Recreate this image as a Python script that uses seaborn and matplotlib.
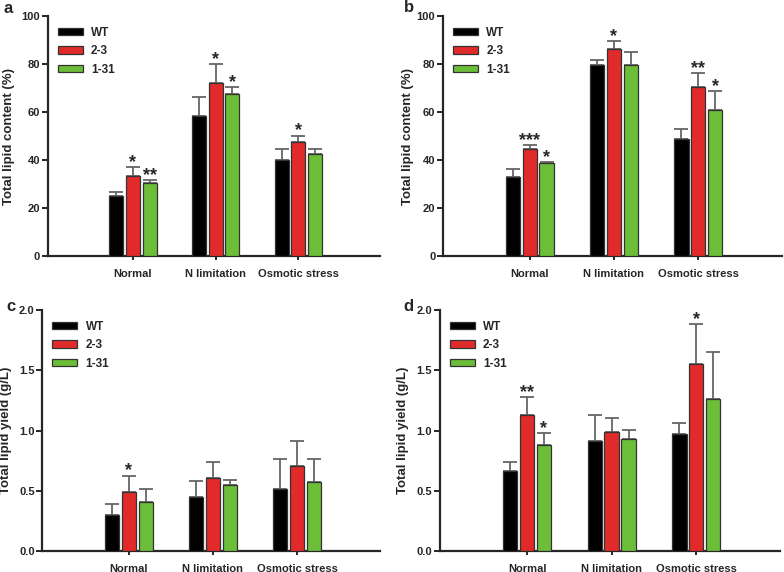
import pandas as pd
import seaborn as sns
import matplotlib.pyplot as plt

conditions = ["Normal", "N limitation", "Osmotic stress"]
strains = ["WT", "2-3", "1-31"]
colors = ["#000000", "#e12a2a", "#6cbd38"]

# means per strain (rows) for each condition (cols)
content_a = [[25.0, 58.4, 40.2], [33.3, 72.1, 47.7], [30.4, 67.5, 42.7]]
content_a_err = [[1.6, 7.8, 4.5], [3.8, 7.9, 2.5], [1.3, 2.8, 2.0]]
content_b = [[32.8, 79.5, 48.6], [44.8, 86.3, 70.3], [38.9, 79.7, 60.7]]
content_b_err = [[3.6, 2.3, 4.2], [1.6, 3.3, 6.1], [0.4, 5.3, 8.2]]
yield_c = [[0.30, 0.446, 0.511], [0.49, 0.604, 0.706], [0.41, 0.55, 0.574]]
yield_c_err = [[0.087, 0.134, 0.25], [0.136, 0.135, 0.21], [0.106, 0.037, 0.186]]
yield_d = [[0.666, 0.913, 0.968], [1.129, 0.985, 1.553], [0.877, 0.932, 1.262]]
yield_d_err = [[0.069, 0.216, 0.094], [0.147, 0.116, 0.333], [0.105, 0.075, 0.386]]

stars_a = [["", "", ""], ["*", "*", "*"], ["**", "*", ""]]
stars_b = [["", "", ""], ["***", "*", "**"], ["*", "", "*"]]
stars_c = [["", "", ""], ["*", "", ""], ["", "", ""]]
stars_d = [["", "", ""], ["**", "", "*"], ["*", "", ""]]

panels = [
    ("a", content_a, content_a_err, stars_a, "Total lipid content (%)", 100, [0, 20, 40, 60, 80, 100], [0.061, 0.5524, 0.424, 0.4196], -0.099),
    ("b", content_b, content_b_err, stars_b, "Total lipid content (%)", 100, [0, 20, 40, 60, 80, 100], [0.565, 0.5524, 0.432, 0.4196], -0.086),
    ("c", yield_c, yield_c_err, stars_c, "Total lipid yield (g/L)", 2.0, [0.0, 0.5, 1.0, 1.5, 2.0], [0.054, 0.0367, 0.431, 0.4213], -0.089),
    ("d", yield_d, yield_d_err, stars_d, "Total lipid yield (g/L)", 2.0, [0.0, 0.5, 1.0, 1.5, 2.0], [0.561, 0.0367, 0.434, 0.4213], -0.091),
]
letter_pos = {"a": (0.004, 0.977), "b": (0.515, 0.979), "c": (0.008, 0.456), "d": (0.515, 0.456)}

sns.set_theme(style="ticks")
plt.rcParams["font.family"] = ["Liberation Sans", "DejaVu Sans"]
plt.rcParams["font.weight"] = "bold"

fig = plt.figure(figsize=(7.84, 5.72), dpi=100)

for letter, vals, errs, stars, ylab, ymax, yticks, pos, labx in panels:
    ax = fig.add_axes(pos)
    rows = []
    for i, s in enumerate(strains):
        for j, c in enumerate(conditions):
            rows.append({"condition": c, "strain": s, "value": vals[i][j]})
    df = pd.DataFrame(rows)
    sns.barplot(data=df, x="condition", y="value", hue="strain", order=conditions,
                hue_order=strains, palette=colors, saturation=1, width=0.6, gap=0.15,
                errorbar=None, edgecolor="#333333", linewidth=0.9, ax=ax, zorder=3)
    bar_groups = list(ax.containers)
    for i, cont in enumerate(bar_groups):
        for j, bar in enumerate(cont):
            x = bar.get_x() + bar.get_width() / 2
            top = bar.get_height()
            ax.errorbar(x, top, yerr=[[0], [errs[i][j]]], fmt="none", ecolor="#666666",
                        elinewidth=1.3, capsize=5, capthick=1.3, zorder=2)
            if stars[i][j]:
                ax.text(x, top + errs[i][j], stars[i][j], ha="center", va="baseline",
                        fontsize=13, fontweight="bold")
    ax.set_xlim(-1.03, 2.99)
    ax.set_ylim(0, ymax)
    ax.set_yticks(yticks)
    if ymax == 2.0:
        ax.set_yticklabels([f"{t:.1f}" for t in yticks])
    ax.set_xlabel("")
    ax.set_ylabel(ylab, fontsize=9.5, fontweight="bold")
    ax.yaxis.set_label_coords(labx, 0.5)
    ax.tick_params(axis="y", labelsize=8, width=1.4, length=4, pad=1.5)
    ax.tick_params(axis="x", labelsize=8, width=1.4, length=3, pad=6)
    for lab in ax.get_xticklabels() + ax.get_yticklabels():
        lab.set_fontweight("bold")
    sns.despine(ax=ax)
    ax.spines["left"].set_linewidth(1.6)
    ax.spines["bottom"].set_linewidth(1.6)
    ax.legend(loc="upper left", bbox_to_anchor=(0.03, 0.955), frameon=False,
              prop={"size": 8.5, "weight": "bold"}, handlelength=2.1, handleheight=0.6,
              labelspacing=0.55, borderpad=0, borderaxespad=0, handletextpad=0.7)
    fig.text(letter_pos[letter][0], letter_pos[letter][1], letter, fontsize=12,
             fontweight="bold", va="baseline")

fig.savefig("out.png", dpi=100)
